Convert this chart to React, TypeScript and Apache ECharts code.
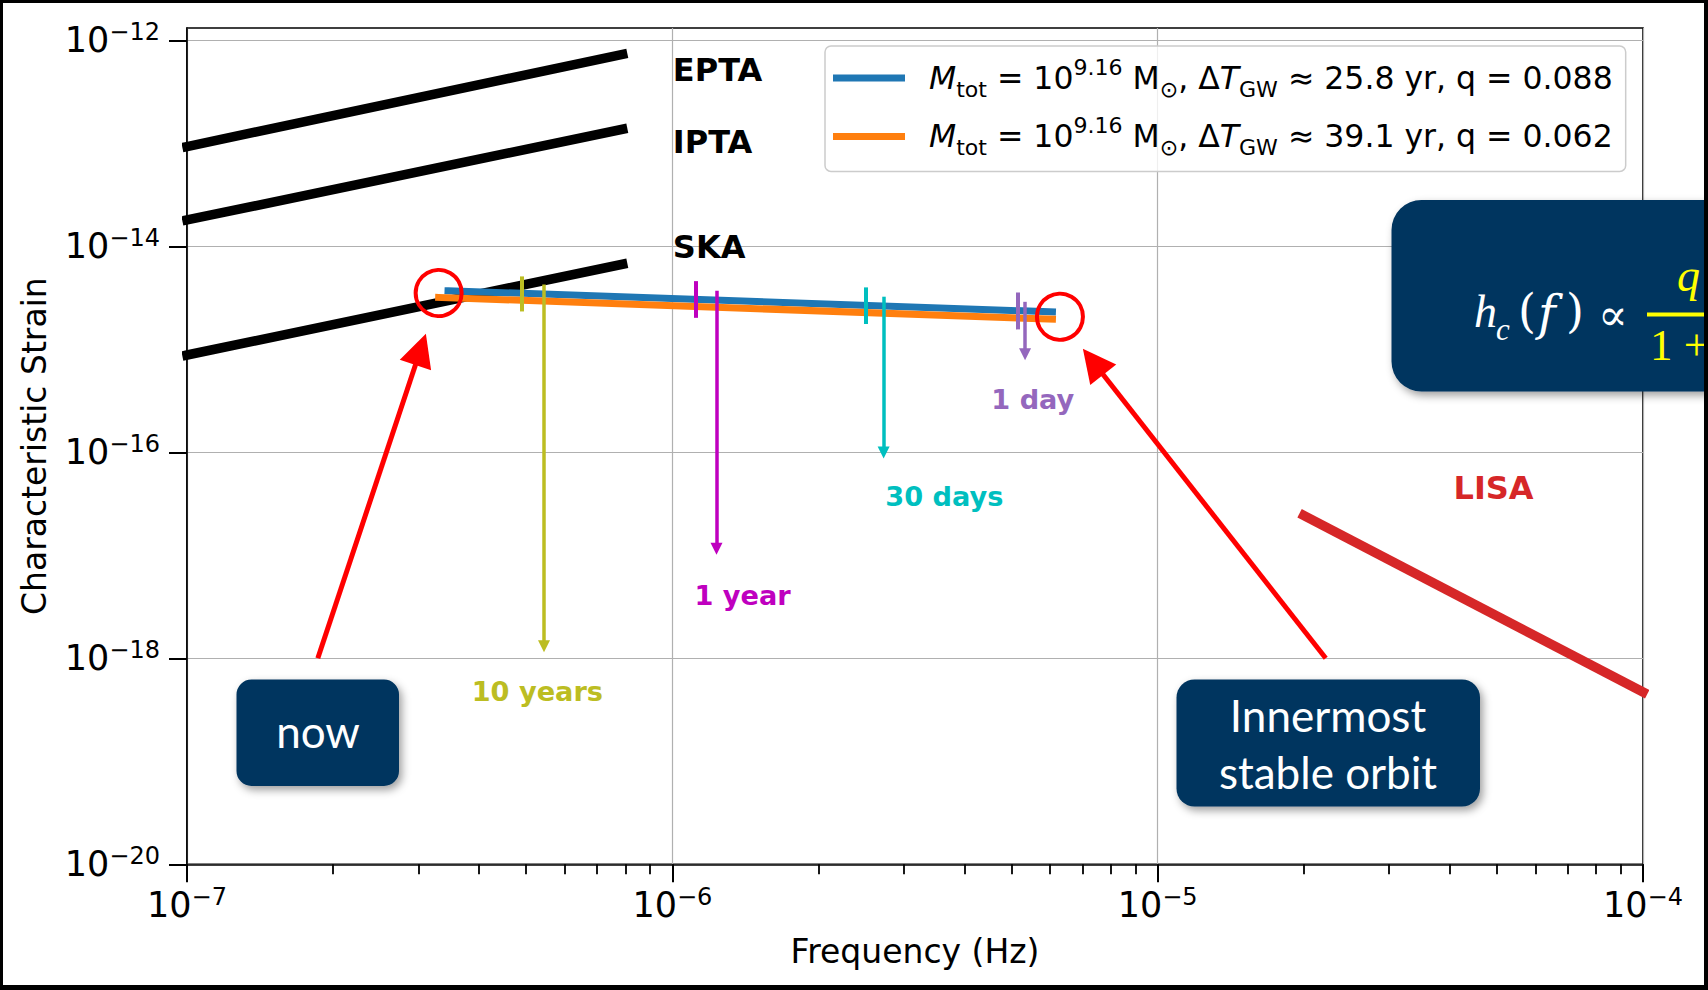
import React, { useEffect, useRef } from 'react';
import * as echarts from 'echarts';

// ---- axes -------------------------------------------------------------
const freqRange = [1e-7, 1e-4];
const strainRange = [1e-20, 1.316e-12];
const freqMajorTicks = [1e-7, 1e-6, 1e-5, 1e-4];
const freqMinorTicks = [
  2e-7, 3e-7, 4e-7, 5e-7, 6e-7, 7e-7, 8e-7, 9e-7,
  2e-6, 3e-6, 4e-6, 5e-6, 6e-6, 7e-6, 8e-6, 9e-6,
  2e-5, 3e-5, 4e-5, 5e-5, 6e-5, 7e-5, 8e-5, 9e-5,
];
const strainTicks = [1e-20, 1e-18, 1e-16, 1e-14, 1e-12];

// ---- detector sensitivity curves [frequency (Hz), characteristic strain]
const eptaCurve = [[1e-7, 9.3e-14], [7.9e-7, 7.3e-13]];
const iptaCurve = [[1e-7, 1.8e-14], [7.9e-7, 1.37e-13]];
const skaCurve = [[1e-7, 8.8e-16], [7.9e-7, 6.7e-15]];
const lisaCurve = [[2.0e-5, 2.44e-17], [1.0e-4, 4.71e-19]];

const detectorNames = ['EPTA', 'IPTA', 'SKA', 'LISA'];
const detectorColors = ['#000000', '#000000', '#000000', '#d62728'];
const detectorTextFreq = [1.0e-6, 1.0e-6, 1.0e-6, 4.06e-5];
const detectorTextStrain = [5.19e-13, 1.04e-13, 9.77e-15, 4.54e-17];

// ---- binary tracks ------------------------------------------------------
const binaryMassExp = ['9.16', '9.16'];
const binaryDeltaT = ['25.8', '39.1'];
const binaryQ = ['0.088', '0.062'];
const binaryColors = ['#1f77b4', '#ff7f0e'];
const binaryTrackA = [[3.45e-7, 3.70e-15], [6.07e-6, 2.31e-15]];
const binaryTrackB = [[3.30e-7, 3.19e-15], [6.07e-6, 1.96e-15]];

// ---- time-to-merger markers ----------------------------------------------
const markerNames = ['10 years', '1 year', '30 days', '1 day'];
const markerColors = ['#bcbd22', '#bf00bf', '#00bfbf', '#9467bd'];
const markerTickFreq = [4.90e-7, 1.118e-6, 2.507e-6, 5.16e-6];
const markerTickTop = [5.10e-15, 4.59e-15, 3.99e-15, 3.56e-15];
const markerTickBottom = [2.33e-15, 2.02e-15, 1.76e-15, 1.56e-15];
const markerArrowFreq = [5.44e-7, 1.233e-6, 2.725e-6, 5.33e-6];
const markerArrowTop = [4.26e-15, 3.70e-15, 3.24e-15, 2.89e-15];
const markerArrowEnd = [1.31e-18, 1.16e-17, 9.97e-17, 8.97e-16];
const markerTextFreq = [3.85e-7, 1.108e-6, 2.74e-6, 4.53e-6];
const markerTextStrain = [4.79e-19, 4.11e-18, 3.71e-17, 3.28e-16];

// ---- callouts: track start ("now") and innermost stable orbit -------------
const highlightPoints = [[3.30e-7, 3.52e-15], [6.29e-6, 2.07e-15]];
const pointerFrom = [[1.86e-7, 1.0e-18], [2.22e-5, 1.0e-18]];
const pointerTo = [[3.03e-7, 1.0e-15], [7.36e-6, 7.57e-16]];

const DV = 'DejaVu Sans';
const NAVY = '#03355e';
const BOX_SHADOW = {
  shadowBlur: 8,
  shadowOffsetX: 3,
  shadowOffsetY: 4,
  shadowColor: 'rgba(0,0,0,0.38)',
};

const binaryNames = binaryDeltaT.map(
  (dt, i) => `M_tot = 10^${binaryMassExp[i]} M⊙, ΔT_GW ≈ ${dt} yr, q = ${binaryQ[i]}`
);

const legendRich = (i: number) =>
  `{g| }{i|M}{sub|tot}{n| = 10}{sup|${binaryMassExp[i]}}{n| M}{sub|⊙}{n|, Δ}{i|T}{sub|GW}{n| ≈ ${binaryDeltaT[i]} yr, q = ${binaryQ[i]}}`;

const powerLabel = (v: number) => `{b|10}{s|−${Math.round(-Math.log10(v))}}`;

const tickRich = {
  b: { fontFamily: DV, fontSize: 35, color: '#000', lineHeight: 40 },
  s: { fontFamily: DV, fontSize: 24, color: '#000', lineHeight: 22, verticalAlign: 'top' },
};

const LEG = 31.5;

function buildOption(): any {
  const lineBase = {
    type: 'line',
    symbol: 'none',
    silent: true,
    emphasis: { disabled: true },
    clip: true,
  };

  const textPoints = [
    ...detectorNames.map((name, i) => ({
      value: [detectorTextFreq[i], detectorTextStrain[i]],
      label: { formatter: name, color: detectorColors[i], fontSize: 32 },
    })),
    ...markerNames.map((name, i) => ({
      value: [markerTextFreq[i], markerTextStrain[i]],
      label: { formatter: name, color: markerColors[i], fontSize: 27.2 },
    })),
  ];

  const serif = (text: string, x: number, y: number, size: number, fill: string, italic: boolean, family = 'Liberation Serif') => ({
    type: 'text',
    z: 101,
    x,
    y,
    style: {
      text,
      fill,
      fontFamily: family,
      fontStyle: italic ? 'italic' : 'normal',
      fontSize: size,
      verticalAlign: 'middle',
    },
  });

  return {
    animation: false,
    backgroundColor: '#ffffff',
    textStyle: { fontFamily: DV },
    grid: {
      left: 187,
      top: 28,
      width: 1456,
      height: 836.3,
      show: true,
      borderColor: '#000',
      borderWidth: 1.6,
      backgroundColor: 'transparent',
      containLabel: false,
      outerBoundsMode: 'none',
    },
    legend: {
      show: true,
      orient: 'vertical',
      left: 825,
      top: 46,
      padding: [10, 13, 13, 8],
      itemWidth: 72,
      itemHeight: 7,
      itemGap: 14.4,
      selectedMode: false,
      icon: 'rect',
      backgroundColor: 'rgba(255,255,255,0.8)',
      borderColor: '#cccccc',
      borderWidth: 1.5,
      borderRadius: 6,
      data: binaryNames,
      formatter: (name: string) => legendRich(binaryNames.indexOf(name)),
      textStyle: {
        color: '#000',
        fontFamily: DV,
        fontSize: LEG,
        rich: {
          g: { width: 19 },
          n: { fontFamily: DV, fontSize: LEG, lineHeight: 44, color: '#000' },
          i: { fontFamily: DV, fontSize: LEG, fontStyle: 'italic', lineHeight: 44, color: '#000' },
          sub: { fontFamily: DV, fontSize: LEG * 0.7, lineHeight: 27, verticalAlign: 'bottom', color: '#000' },
          sup: { fontFamily: DV, fontSize: LEG * 0.7, lineHeight: 26, verticalAlign: 'top', color: '#000' },
        },
      },
    },
    xAxis: [
      {
        type: 'log',
        logBase: 10,
        min: freqRange[0],
        max: freqRange[1],
        position: 'bottom',
        name: 'Frequency (Hz)',
        nameLocation: 'middle',
        nameGap: 71,
        nameMoveOverlap: false,
        nameTextStyle: { fontFamily: DV, fontSize: 33, color: '#000', lineHeight: 33 },
        axisLine: { show: true, onZero: false, lineStyle: { color: '#000', width: 1.6 } },
        axisTick: {
          show: true,
          customValues: freqMajorTicks,
          length: 18,
          lineStyle: { color: '#000', width: 2 },
        },
        minorTick: { show: false },
        axisLabel: {
          show: true,
          customValues: freqMajorTicks,
          margin: 21,
          formatter: powerLabel,
          rich: tickRich,
        },
        splitLine: { show: true, lineStyle: { color: '#b0b0b0', width: 1.2 } },
        minorSplitLine: { show: false },
      },
      {
        type: 'log',
        logBase: 10,
        min: freqRange[0],
        max: freqRange[1],
        position: 'bottom',
        axisLine: { show: false },
        axisTick: {
          show: true,
          customValues: freqMinorTicks,
          length: 10,
          lineStyle: { color: '#000', width: 1.8 },
        },
        axisLabel: { show: false },
        splitLine: { show: false },
      },
    ],
    yAxis: {
      type: 'log',
      logBase: 10,
      min: strainRange[0],
      max: strainRange[1],
      name: 'Characteristic Strain',
      nameLocation: 'middle',
      nameGap: 136,
      nameMoveOverlap: false,
      nameTextStyle: { fontFamily: DV, fontSize: 33, color: '#000', lineHeight: 33 },
      axisLine: { show: true, onZero: false, lineStyle: { color: '#000', width: 1.6 } },
      axisTick: {
        show: true,
        customValues: strainTicks,
        length: 18,
        lineStyle: { color: '#000', width: 2 },
      },
      minorTick: { show: false },
      axisLabel: {
        show: true,
        customValues: strainTicks,
        margin: 27,
        formatter: powerLabel,
        rich: tickRich,
      },
      splitLine: { show: true, lineStyle: { color: '#b0b0b0', width: 1.2 } },
      minorSplitLine: { show: false },
    },
    series: [
      ...[eptaCurve, iptaCurve, skaCurve].map((d) => ({
        ...lineBase,
        data: d,
        lineStyle: { color: '#000', width: 9.5, cap: 'square' },
        z: 2,
      })),
      {
        ...lineBase,
        data: lisaCurve,
        lineStyle: { color: '#d62728', width: 9.5, cap: 'square' },
        z: 2,
      },
      {
        ...lineBase,
        name: binaryNames[0],
        data: binaryTrackA,
        itemStyle: { color: binaryColors[0] },
        lineStyle: { color: binaryColors[0], width: 7, cap: 'square' },
        z: 3,
      },
      {
        ...lineBase,
        name: binaryNames[1],
        data: binaryTrackB,
        itemStyle: { color: binaryColors[1] },
        lineStyle: { color: binaryColors[1], width: 7, cap: 'square' },
        z: 3,
      },
      {
        type: 'lines',
        coordinateSystem: 'cartesian2d',
        silent: true,
        symbol: ['none', 'none'],
        lineStyle: { width: 4, opacity: 1 },
        data: markerTickFreq.map((f, i) => ({
          coords: [[f, markerTickTop[i]], [f, markerTickBottom[i]]],
          lineStyle: { color: markerColors[i] },
        })),
        z: 4,
      },
      {
        type: 'lines',
        coordinateSystem: 'cartesian2d',
        silent: true,
        symbol: ['none', 'triangle'],
        symbolSize: 12,
        lineStyle: { width: 3.5, opacity: 1 },
        data: markerArrowFreq.map((f, i) => ({
          coords: [[f, markerArrowTop[i]], [f, markerArrowEnd[i]]],
          lineStyle: { color: markerColors[i] },
        })),
        z: 4,
      },
      {
        type: 'scatter',
        silent: true,
        symbol: 'circle',
        symbolSize: 1,
        itemStyle: { color: 'rgba(0,0,0,0)', opacity: 1 },
        label: {
          show: true,
          position: 'right',
          distance: 0,
          opacity: 1,
          fontFamily: DV,
          fontWeight: 'bold',
        },
        data: textPoints,
        z: 5,
      },
      {
        type: 'scatter',
        silent: true,
        symbol: 'circle',
        symbolSize: 46,
        itemStyle: { color: 'rgba(0,0,0,0)', borderColor: '#ff0000', borderWidth: 4, opacity: 1 },
        data: highlightPoints,
        z: 10,
      },
      {
        type: 'lines',
        coordinateSystem: 'cartesian2d',
        silent: true,
        symbol: ['none', 'triangle'],
        symbolSize: 33,
        lineStyle: { width: 5, opacity: 1, color: '#ff0000' },
        data: pointerFrom.map((p, i) => ({ coords: [p, pointerTo[i]] })),
        z: 10,
      },
    ],
    graphic: [
      // "now" callout
      {
        type: 'rect',
        z: 100,
        shape: { x: 236.5, y: 679.5, width: 162.5, height: 106.5, r: 15 },
        style: { fill: NAVY, ...BOX_SHADOW },
      },
      {
        type: 'text',
        z: 101,
        x: 318,
        y: 731,
        style: {
          text: 'now',
          fill: '#ffffff',
          fontFamily: 'Lato',
          fontSize: 44,
          align: 'center',
          verticalAlign: 'middle',
        },
      },
      // innermost stable orbit callout
      {
        type: 'rect',
        z: 100,
        shape: { x: 1176.5, y: 679.5, width: 303.5, height: 127, r: 18 },
        style: { fill: NAVY, ...BOX_SHADOW },
      },
      {
        type: 'text',
        z: 101,
        x: 1328,
        y: 743,
        style: {
          text: 'Innermost\nstable orbit',
          fill: '#ffffff',
          fontFamily: 'Lato',
          fontSize: 44,
          lineHeight: 57,
          align: 'center',
          verticalAlign: 'middle',
        },
      },
      // scaling relation box
      {
        type: 'rect',
        z: 100,
        shape: { x: 1391.5, y: 200, width: 420, height: 191.5, r: 30 },
        style: { fill: NAVY, ...BOX_SHADOW },
      },
      serif('h', 1474, 311.5, 46, '#ffffff', true),
      serif('c', 1496, 329, 31, '#ffffff', true),
      serif('(', 1518, 311, 46, '#ffffff', false, 'DejaVu Serif'),
      serif('f', 1538, 313, 48, '#ffffff', true, 'DejaVu Serif'),
      serif(')', 1566, 311, 46, '#ffffff', false, 'DejaVu Serif'),
      serif('∝', 1598, 314, 44, '#ffffff', false, 'DejaVu Serif'),
      {
        type: 'rect',
        z: 101,
        shape: { x: 1647, y: 312.5, width: 80, height: 4 },
        style: { fill: '#ffff00' },
      },
      serif('q', 1677, 275, 46, '#ffff00', true),
      serif('1 +', 1650, 345, 45, '#ffff00', false),
      // outer black frame
      { type: 'rect', z: 200, shape: { x: 0, y: 0, width: 1708, height: 3 }, style: { fill: '#000' } },
      { type: 'rect', z: 200, shape: { x: 0, y: 0, width: 3, height: 990 }, style: { fill: '#000' } },
      { type: 'rect', z: 200, shape: { x: 1704, y: 0, width: 4, height: 990 }, style: { fill: '#000' } },
      { type: 'rect', z: 200, shape: { x: 0, y: 985, width: 1708, height: 5 }, style: { fill: '#000' } },
    ],
  };
}

export default function App() {
  const ref = useRef<HTMLDivElement>(null);

  useEffect(() => {
    document.body.style.margin = '0';
    if (!ref.current) return;
    const chart = echarts.init(ref.current, null, { renderer: 'svg' });
    chart.setOption(buildOption());
    return () => {
      chart.dispose();
    };
  }, []);

  return <div ref={ref} style={{ width: 1708, height: 990 }} />;
}
